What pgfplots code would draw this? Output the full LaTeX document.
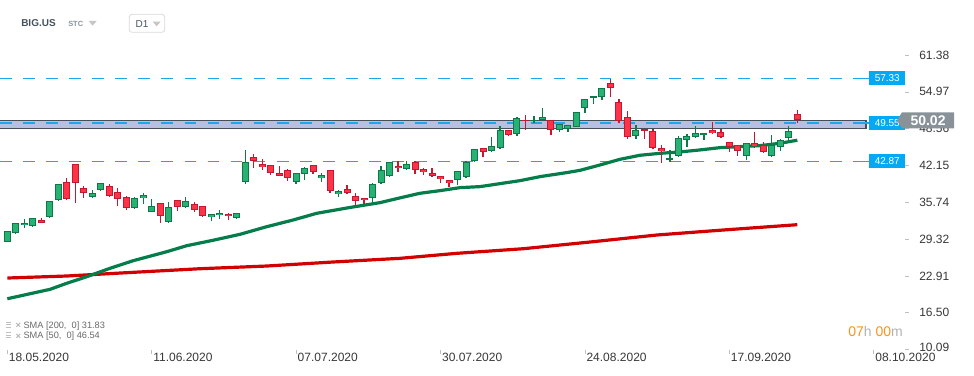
\documentclass[border=0pt]{standalone}
\usepackage{pgfplots}
\pgfplotsset{compat=1.18}
\usepackage{pgfplotstable}
\usepackage{fontspec}
\setmainfont{Liberation Sans}
\usetikzlibrary{shapes.symbols}
\definecolor{upfill}{RGB}{38,178,115}
\definecolor{upline}{RGB}{16,120,72}
\definecolor{dnfill}{RGB}{255,51,71}
\definecolor{dnline}{RGB}{196,24,48}
\definecolor{smagreen}{RGB}{5,125,75}
\definecolor{smared}{RGB}{210,0,0}
\definecolor{lvl}{RGB}{30,165,235}
\definecolor{lvlbox}{RGB}{3,169,244}
\definecolor{bandfill}{RGB}{184,192,226}
\definecolor{bandline}{RGB}{70,78,88}
\definecolor{pricebox}{RGB}{136,146,152}
\definecolor{ticktext}{RGB}{55,55,55}
\definecolor{orangeT}{RGB}{247,148,29}
\definecolor{titlecol}{RGB}{70,82,94}
\definecolor{subgray}{RGB}{135,148,160}
\definecolor{leggray}{RGB}{105,105,105}

% candles: x = trading-day index, O H L C
\pgfplotstableread{
x O H L C
1 28.87 30.80 28.80 30.73
2 30.33 32.10 30.20 32.07
3 31.72 32.82 31.31 32.13
4 31.66 33.00 31.50 32.94
6 33.11 35.95 33.00 35.90
7 36.13 38.90 36.00 38.86
11 36.60 37.82 36.55 37.30
12 37.94 39.10 37.76 39.04
16 34.68 36.66 34.51 36.43
17 36.43 37.35 35.50 37.01
18 34.10 36.31 34.05 35.09
20 32.36 35.79 32.13 34.92
22 34.86 36.66 34.80 35.90
25 33.11 33.70 32.53 33.64
26 33.46 34.33 32.88 33.87
28 32.94 33.85 32.77 33.81
29 39.33 44.85 38.92 42.70
35 39.33 40.80 38.98 40.78
36 40.61 41.83 39.62 41.65
38 39.91 40.84 39.33 40.43
40 37.12 37.87 36.72 37.64
44 36.43 39.04 35.55 38.86
45 39.04 42.06 39.00 41.30
46 40.37 42.70 40.20 42.70
48 41.48 42.93 41.40 42.35
54 39.56 41.15 38.80 41.13
55 40.08 42.99 40.00 42.70
56 42.87 45.00 42.80 44.96
58 44.61 47.11 44.44 45.48
59 45.13 48.97 45.10 48.27
61 47.57 50.65 47.34 50.36
63 49.84 50.71 49.49 50.13
64 50.13 52.16 49.84 50.53
66 48.27 49.35 47.92 49.32
67 48.45 49.20 47.92 49.14
68 48.91 51.50 48.85 51.41
69 52.10 53.70 51.23 53.67
70 53.85 54.20 52.80 54.19
71 54.02 55.60 53.61 55.59
75 47.23 49.20 46.70 48.27
79 43.05 44.79 42.75 43.39
80 43.74 47.23 43.70 46.88
81 46.53 47.57 45.31 47.23
82 47.05 48.97 47.00 47.75
83 47.40 47.80 46.53 47.75
88 43.74 46.00 43.05 46.00
91 43.74 47.40 43.70 45.66
92 45.31 46.70 44.61 46.53
93 46.88 48.97 46.53 48.10
}\up
\pgfplotstableread{
x O H L C
5 32.59 33.00 32.10 32.19
8 39.21 39.97 36.20 36.25
9 42.35 42.40 35.67 39.04
10 38.17 38.57 36.43 37.41
13 38.63 38.86 36.71 36.89
14 37.47 38.22 35.15 36.25
15 36.60 36.83 34.33 34.68
19 35.55 35.60 32.19 33.29
21 36.08 36.10 34.27 34.86
23 35.38 35.73 34.10 34.33
24 35.03 35.10 33.20 33.29
27 33.69 33.81 32.71 33.29
30 43.57 44.09 41.77 42.87
31 42.35 43.28 41.42 41.83
32 42.17 42.20 40.55 40.78
33 40.78 42.06 40.30 40.37
34 41.30 41.53 39.50 39.91
37 42.17 42.20 40.61 40.95
39 41.30 41.35 37.41 37.64
41 37.99 38.69 37.12 37.30
42 36.83 37.30 35.32 36.02
43 36.48 36.50 35.50 36.08
47 42.06 42.93 41.07 41.65
49 42.70 42.93 40.72 41.30
50 41.48 41.71 40.55 40.95
51 40.78 41.71 40.20 40.37
52 40.26 40.30 39.15 39.74
53 39.56 39.60 38.46 39.04
57 45.13 45.15 43.68 44.44
60 48.27 48.30 47.28 47.52
62 50.13 50.88 48.39 49.84
65 50.13 50.15 47.52 48.27
72 56.46 57.16 54.14 55.59
73 53.15 53.67 49.49 49.84
74 50.53 51.58 46.76 47.05
76 48.45 48.50 46.82 48.10
77 48.10 48.45 45.10 45.13
78 45.13 45.66 42.52 44.61
84 48.27 49.72 47.70 47.75
85 47.92 48.45 46.88 47.05
86 46.18 46.20 44.44 45.31
87 45.66 45.70 43.86 44.61
89 46.00 47.92 45.13 45.48
90 45.66 46.18 44.40 44.44
94 51.06 51.76 49.49 50.01
}\down

\pgfplotsset{
  wick/.style={draw=none, forget plot, error bars/.cd, y dir=both, y explicit, error mark=none,
    error bar style={draw=#1, line width=0.95pt}},
  bodyborder/.style={draw=none, forget plot, error bars/.cd, y dir=both, y explicit, error mark=none,
    error bar style={draw=#1, line width=5.25pt}},
  bodyfill/.style={draw=none, forget plot, error bars/.cd, y dir=both, y explicit, error mark=none,
    error bar style={draw=#1, line width=3.75pt}},
  level/.style={draw=lvl, line width=1pt, dash pattern=on 8.8pt off 8.5pt, forget plot},
}

\begin{document}
\begin{tikzpicture}
\useasboundingbox (0,0) rectangle (730.5pt,281.25pt);
\begin{axis}[
  at={(0pt,19.125pt)}, anchor=south west,
  scale only axis, width=730.5pt, height=232.125pt,
  xmin=0.14, xmax=114.8, ymin=10.09, ymax=64.0,
  axis line style={draw=none},
  tick align=outside,
  major tick length=3pt,
  xtick pos=bottom, ytick pos=right, yticklabel pos=right,
  xtick={1,18,35,52,69,86,103},
  xticklabels={18.05.2020,11.06.2020,07.07.2020,30.07.2020,24.08.2020,17.09.2020,08.10.2020},
  xtick style={draw=black!25, line width=0.5pt},
  xticklabel style={anchor=north west, inner sep=0pt, xshift=1pt, yshift=0.5pt,
    font=\fontsize{9}{10}\selectfont, text=ticktext},
  ytick={10.09,16.50,22.91,29.32,35.74,42.15,48.56,54.97,61.38},
  yticklabels={\raisebox{4pt}{10.09},16.50,22.91,29.32,35.74,42.15,48.56,54.97,61.38},
  ytick style={draw=black!25, line width=0.5pt, xshift=-51.75pt},
  yticklabel style={anchor=west, inner sep=0pt, xshift=-44.25pt,
    font=\fontsize{9}{10}\selectfont, text=ticktext},
]
% support/resistance band
\addplot[fill=bandfill, draw=bandline, line width=0.9pt, forget plot]
  coordinates {(-2,48.62) (102.09,48.62) (102.09,50.01) (-2,50.01)} -- cycle;
% dashed levels
\addplot[level] coordinates {(0.14,57.33) (101.0,57.33)};
\addplot[level] coordinates {(0.14,49.55) (101.0,49.55)};
\addplot[level] coordinates {(0.14,42.87) (101.0,42.87)};
\addplot[draw=lvl, line width=1pt, forget plot] coordinates {(100.9,57.33) (102.44,57.33)};
\addplot[draw=lvl, line width=1pt, forget plot] coordinates {(100.9,49.55) (102.44,49.55)};
\addplot[draw=lvl, line width=1pt, forget plot] coordinates {(100.9,42.87) (102.44,42.87)};
% SMA 200
\addplot[smared, line width=2.4pt, forget plot] coordinates {
(1,22.54) (7.99,22.89) (15.80,23.53) (23.68,24.16) (31.54,24.63) (39.34,25.33)
(47.23,25.97) (53.90,26.84) (61.71,27.64) (69.59,28.81) (77.45,30.03) (85.25,30.90) (94,31.83)};
% SMA 50
\addplot[smagreen, line width=2.4pt, forget plot] coordinates {
(1,18.93) (6.03,20.57) (7.99,21.62) (10.35,22.77) (13.09,24.23) (15.80,25.55) (19.76,27.12)
(22.12,28.17) (25.21,29.11) (28.39,30.15) (31.54,31.48) (34.63,32.64) (37.42,33.81)
(41.34,34.83) (44.87,35.67) (47.23,36.50) (49.58,37.30) (51.94,37.76) (54.29,38.28)
(56.65,38.46) (59.00,38.98) (61.36,39.50) (63.71,40.20) (66.85,40.90) (68.42,41.30)
(70.77,42.23) (73.13,43.22) (75.48,43.92) (77.84,44.26) (80.19,44.50) (82.54,44.85)
(84.90,45.25) (87.25,45.43) (89.61,45.60) (91.96,46.01) (94,46.54)};
% candles: wicks
\addplot[wick=upline] table[x=x, y expr={(\thisrow{H}+\thisrow{L})/2}, y error expr={(\thisrow{H}-\thisrow{L})/2}] {\up};
\addplot[wick=dnline] table[x=x, y expr={(\thisrow{H}+\thisrow{L})/2}, y error expr={(\thisrow{H}-\thisrow{L})/2}] {\down};
% bodies
\addplot[bodyborder=upline] table[x=x, y expr={(\thisrow{O}+\thisrow{C})/2}, y error expr={max(abs(\thisrow{C}-\thisrow{O})/2,0.09)}] {\up};
\addplot[bodyborder=dnline] table[x=x, y expr={(\thisrow{O}+\thisrow{C})/2}, y error expr={max(abs(\thisrow{C}-\thisrow{O})/2,0.09)}] {\down};
\addplot[bodyfill=upfill] table[x=x, y expr={(\thisrow{O}+\thisrow{C})/2}, y error expr={max(abs(\thisrow{C}-\thisrow{O})/2-0.174,0)}] {\up};
\addplot[bodyfill=dnfill] table[x=x, y expr={(\thisrow{O}+\thisrow{C})/2}, y error expr={max(abs(\thisrow{C}-\thisrow{O})/2-0.174,0)}] {\down};
\coordinate (L1) at (axis cs:102.44,57.33);
\coordinate (L2) at (axis cs:102.44,49.55);
\coordinate (L3) at (axis cs:102.44,42.87);
\coordinate (P) at (axis cs:105.7,50.02);
\end{axis}
% level boxes
\foreach \c/\t in {L1/57.33,L2/49.55,L3/42.87}{
  \node[fill=lvlbox, text=white, anchor=west, inner sep=0pt, minimum width=27pt, minimum height=10.5pt,
    font=\fontsize{7.5}{8}\selectfont] at (\c) {\t};
}
% current price
\node[signal, signal to=west, signal pointer angle=116, fill=pricebox, text=white, anchor=west,
  inner xsep=3pt, inner ysep=0pt, minimum height=12pt, minimum width=42.75pt,
  font=\bfseries\fontsize{10.5}{11}\selectfont] at (P) {50.02};
% header
\node[anchor=west, inner sep=0pt, text=titlecol, font=\bfseries\fontsize{7.5}{9}\selectfont]
  at (15.75pt,264pt) {BIG.US};
\node[anchor=west, inner sep=0pt, text=subgray, font=\bfseries\fontsize{5.6}{6}\selectfont]
  at (51pt,263pt) {STC};
\fill[black!22] (66.5pt,265.5pt) -- (72.5pt,265.5pt) -- (69.5pt,262pt) -- cycle;
\draw[black!15, line width=0.6pt, rounded corners=2pt] (97pt,257pt) rectangle (123.5pt,270.5pt);
\node[anchor=west, inner sep=0pt, text=titlecol, font=\fontsize{7.5}{9}\selectfont]
  at (101.5pt,263.5pt) {D1};
\fill[black!22] (114.5pt,265pt) -- (120.5pt,265pt) -- (117.5pt,261.5pt) -- cycle;
% legend rows
\foreach \yy/\t in {36.75pt/{SMA [200,\ \ 0] 31.83},29pt/{SMA [50,\ \ 0] 46.54}}{
  \fill[black!25] (4.5pt,\yy+2.2pt) rectangle (8.5pt,\yy+3pt);
  \fill[black!25] (4.5pt,\yy+0.4pt) rectangle (8.5pt,\yy+1.2pt);
  \fill[black!25] (4.5pt,\yy-1.4pt) rectangle (8.5pt,\yy-0.6pt);
  \node[anchor=west, inner sep=0pt, text=black!30, font=\bfseries\fontsize{7}{8}\selectfont] at (11.5pt,\yy) {×};
  \node[anchor=west, inner sep=0pt, text=leggray, font=\fontsize{6.9}{8}\selectfont] at (17.5pt,\yy) {\t};
}
% countdown
\node[anchor=west, inner sep=0pt, font=\fontsize{10.5}{12}\selectfont] at (636pt,33pt)
  {\textcolor{orangeT}{07}\textcolor{black!30}{h} \textcolor{orangeT}{00}\textcolor{black!30}{m}};
\end{tikzpicture}
\end{document}
